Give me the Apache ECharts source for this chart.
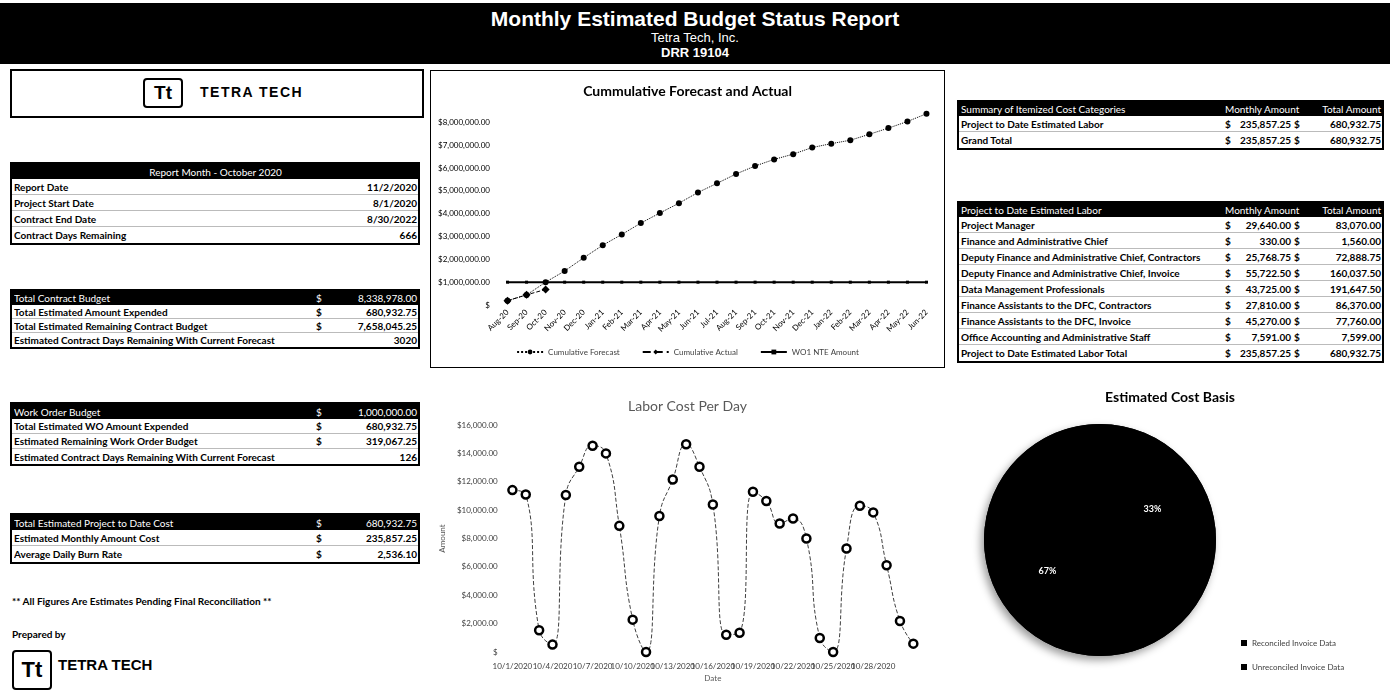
<!DOCTYPE html>
<html>
<head>
<meta charset="utf-8">
<script src="https://cdn.jsdelivr.net/npm/echarts@6/dist/echarts.min.js"></script>
<style>
  html,body{margin:0;padding:0;background:#fff;}
  body{width:1390px;height:692px;position:relative;overflow:hidden;font-family:Lato,"Open Sans",sans-serif;}
  #header{position:absolute;left:0;top:3px;width:1390px;height:61px;background:#000;color:#fff;text-align:center;font-family:"Liberation Sans Narrow","Liberation Sans",Arial,sans-serif;}
  #header .t1{position:absolute;left:0;right:0;top:4px;font-size:21px;font-weight:bold;line-height:24px;}
  #header .t2{position:absolute;left:0;right:0;top:28px;font-size:13px;line-height:14px;}
  #header .t3{position:absolute;left:0;right:0;top:42px;font-size:13px;font-weight:bold;line-height:15px;}
  .box{position:absolute;border:2px solid #000;box-sizing:border-box;}
  .tbl{position:absolute;border:2px solid #000;box-sizing:border-box;font-size:10px;}
  .row{display:flex;align-items:center;box-sizing:border-box;padding:0 1px 0 2px;white-space:nowrap;font-weight:bold;color:#000;border-bottom:1px solid #bbb;}
  .row:last-child{border-bottom:none;}
  .row.hd{background:#000;color:#fff;font-weight:normal;border-bottom:none;}
  .c1{flex:1 1 auto;overflow:hidden;}
  .cd{flex:0 0 auto;text-align:left;}
  .cv{flex:0 0 auto;text-align:right;}
  .ctot{flex:0 0 auto;display:flex;justify-content:space-between;}
  .logo{position:absolute;border:2px solid #000;border-radius:4px;box-sizing:border-box;font-family:"Liberation Sans",Arial,sans-serif;font-weight:bold;text-align:center;}
  .logotext{position:absolute;font-family:"Liberation Sans",Arial,sans-serif;font-weight:bold;white-space:nowrap;}
  .note{position:absolute;font-size:10px;font-weight:bold;white-space:nowrap;}
  #c1{position:absolute;left:430px;top:70px;width:515px;height:298px;border:1px solid #000;box-sizing:border-box;}
  #c2{position:absolute;left:430px;top:380px;width:515px;height:312px;}
  #c3{position:absolute;left:950px;top:380px;width:440px;height:312px;}
</style>
</head>
<body>
<div id="header">
  <div class="t1">Monthly Estimated Budget Status Report</div>
  <div class="t2">Tetra Tech, Inc.</div>
  <div class="t3">DRR 19104</div>
</div>

<div class="box" style="left:10px;top:69px;width:414px;height:49px;"></div>
<div class="logo" style="left:143px;top:78px;width:40px;height:30px;font-size:19px;line-height:26px;">Tt</div>
<div class="logotext" style="left:200px;top:84px;font-size:14px;letter-spacing:1.5px;">TETRA TECH</div>

<div id="leftTables"></div>
<div id="rightTables"></div>

<div class="note" style="left:12px;top:595px;">** All Figures Are Estimates Pending Final Reconciliation **</div>
<div class="note" style="left:12px;top:628px;">Prepared by</div>
<div class="logo" style="left:12px;top:650px;width:40px;height:40px;font-size:22px;line-height:36px;">Tt</div>
<div class="logotext" style="left:58px;top:656px;font-size:15px;">TETRA TECH</div>

<div id="c1"></div>
<div id="c2"></div>
<div id="c3"></div>

<script>
// ---------- Cumulative chart data ----------
const cumCategories = ['Aug-20','Sep-20','Oct-20','Nov-20','Dec-20','Jan-21','Feb-21','Mar-21','Apr-21','May-21','Jun-21','Jul-21','Aug-21','Sep-21','Oct-21','Nov-21','Dec-21','Jan-22','Feb-22','Mar-22','Apr-22','May-22','Jun-22'];
const cumForecast = [190000, 440000, 1000000, 1490000, 2070000, 2620000, 3090000, 3590000, 4030000, 4460000, 4930000, 5330000, 5740000, 6090000, 6380000, 6610000, 6900000, 7070000, 7220000, 7480000, 7750000, 8040000, 8380000];
const cumActual = [190000, 445075, 680932.75];
const woAmount = [1000000,1000000,1000000,1000000,1000000,1000000,1000000,1000000,1000000,1000000,1000000,1000000,1000000,1000000,1000000,1000000,1000000,1000000,1000000,1000000,1000000,1000000,1000000];
const cumSeriesNames = ['Cumulative Forecast','Cumulative Actual','WO1 NTE Amount'];

// ---------- Labor cost per day ----------
const laborDates = ['10/1/2020','10/2/2020','10/3/2020','10/4/2020','10/5/2020','10/6/2020','10/7/2020','10/8/2020','10/9/2020','10/10/2020','10/11/2020','10/12/2020','10/13/2020','10/14/2020','10/15/2020','10/16/2020','10/17/2020','10/18/2020','10/19/2020','10/20/2020','10/21/2020','10/22/2020','10/23/2020','10/24/2020','10/25/2020','10/26/2020','10/27/2020','10/28/2020','10/29/2020','10/30/2020','10/31/2020'];
const laborCost = [11410, 11100, 1530, 520, 11060, 13060, 14540, 14000, 8890, 2280, 0, 9580, 12160, 14640, 13060, 10400, 1220, 1360, 11290, 10640, 9060, 9410, 8000, 990, 0, 7290, 10310, 9840, 6120, 2190, 590];

// ---------- Pie ----------
const pieNames = ['Reconciled Invoice Data','Unreconciled Invoice Data'];
const pieValues = [33, 67];

// ---------- Tables ----------
const reportMonthTitle = 'Report Month - October 2020';
const reportLabels = ['Report Date','Project Start Date','Contract End Date','Contract Days Remaining'];
const reportValues = ['11/2/2020','8/1/2020','8/30/2022','666'];

const contractLabels = ['Total Contract Budget','Total Estimated Amount Expended','Total Estimated Remaining Contract Budget','Estimated Contract Days Remaining With Current Forecast'];
const contractDollar = ['$','$','$',''];
const contractValues = ['8,338,978.00','680,932.75','7,658,045.25','3020'];

const woLabels = ['Work Order Budget','Total Estimated WO Amount Expended','Estimated Remaining Work Order Budget','Estimated Contract Days Remaining With Current Forecast'];
const woDollar = ['$','$','$',''];
const woValues = ['1,000,000.00','680,932.75','319,067.25','126'];

const ptdLabels = ['Total Estimated Project to Date Cost','Estimated Monthly Amount Cost','Average Daily Burn Rate'];
const ptdDollar = ['$','$','$'];
const ptdValues = ['680,932.75','235,857.25','2,536.10'];

const summaryLabels = ['Project to Date Estimated Labor','Grand Total'];
const summaryMonthly = ['235,857.25','235,857.25'];
const summaryTotal = ['680,932.75','680,932.75'];

const laborLabels = ['Project Manager','Finance and Administrative Chief','Deputy Finance and Administrative Chief, Contractors','Deputy Finance and Administrative Chief, Invoice','Data Management Professionals','Finance Assistants to the DFC, Contractors','Finance Assistants to the DFC, Invoice','Office Accounting and Administrative Staff','Project to Date Estimated Labor Total'];
const laborMonthly = ['29,640.00','330.00','25,768.75','55,722.50','43,725.00','27,810.00','45,270.00','7,591.00','235,857.25'];
const laborTotal = ['83,070.00','1,560.00','72,888.75','160,037.50','191,647.50','86,370.00','77,760.00','7,599.00','680,932.75'];

// ---------- Build tables ----------
function leftTable(top, rowH, hdH, labels, dollars, values){
  let h = '<div class="tbl" style="left:10px;top:'+top+'px;width:410px;">';
  labels.forEach((l,i)=>{
    const hd = i===0 ? ' hd' : '';
    const hh = i===0 ? hdH : rowH;
    h += '<div class="row'+hd+'" style="height:'+hh+'px;"><span class="c1">'+l+'</span>';
    h += '<span class="cd" style="width:16px;">'+(dollars[i]||'')+'</span>';
    h += '<span class="cv" style="width:85px;">'+values[i]+'</span></div>';
  });
  return h + '</div>';
}
let lh = '';
lh += '<div class="tbl" style="left:10px;top:162px;width:410px;">';
lh += '<div class="row hd" style="height:15px;justify-content:center;">'+reportMonthTitle+'</div>';
reportLabels.forEach((l,i)=>{ lh += '<div class="row" style="height:16px;"><span class="c1">'+l+'</span><span class="cv">'+reportValues[i]+'</span></div>'; });
lh += '</div>';
lh += leftTable(289, 14, 14, contractLabels, contractDollar, contractValues);
lh += leftTable(402, 15, 15, woLabels, woDollar, woValues);
lh += leftTable(513, 16, 15, ptdLabels, ptdDollar, ptdValues);
document.getElementById('leftTables').innerHTML = lh;

function rightTable(top, title, labels, monthly, total, rowH){
  let h = '<div class="tbl" style="left:957px;top:'+top+'px;width:427px;">';
  h += '<div class="row hd" style="height:14px;"><span class="c1">'+title+'</span><span style="flex:0 0 auto;width:66px;text-align:right;">Monthly Amount</span><span style="flex:0 0 auto;width:87px;margin-left:3px;text-align:right;">Total Amount</span></div>';
  labels.forEach((l,i)=>{
    h += '<div class="row" style="height:'+rowH+'px;"><span class="c1">'+l+'</span><span class="cd" style="width:8px;">$</span><span class="cv" style="width:58px;">'+monthly[i]+'</span><span class="ctot" style="width:87px;margin-left:3px;"><span>$</span><span>'+total[i]+'</span></span></div>';
  });
  return h + '</div>';
}
let rh = '';
rh += rightTable(100, 'Summary of Itemized Cost Categories', summaryLabels, summaryMonthly, summaryTotal, 16);
rh += rightTable(201, 'Project to Date Estimated Labor', laborLabels, laborMonthly, laborTotal, 16);
document.getElementById('rightTables').innerHTML = rh;

// ---------- Charts ----------
const FONT = 'Lato, "Open Sans", sans-serif';
function money(v, dec){
  if (v === 0) return '$';
  return '$' + v.toLocaleString('en-US',{minimumFractionDigits:dec, maximumFractionDigits:dec});
}

const c1 = echarts.init(document.getElementById('c1'), null, {renderer:'canvas'});
c1.setOption({
  animation:false,
  textStyle:{fontFamily:FONT},
  title:{text:'Cummulative Forecast and Actual', left:'center', top:8, textStyle:{fontSize:14, fontWeight:'bold', color:'#000', fontFamily:FONT}},
  grid:{left:67, right:8, top:40, bottom:62},
  legend:{bottom:6, left:'center', itemGap:22, itemWidth:26, itemHeight:6, textStyle:{fontSize:8, color:'#404040'}, data:cumSeriesNames},
  xAxis:{type:'category', data:cumCategories, boundaryGap:true,
    axisLine:{show:false}, axisTick:{show:false},
    axisLabel:{rotate:45, fontSize:8, color:'#000', interval:0, margin:6}},
  yAxis:{type:'value', min:0, max:8500000, interval:1000000,
    axisLine:{show:false}, axisTick:{show:false}, splitLine:{show:false},
    axisLabel:{fontSize:8, color:'#000', showMaxLabel:false, formatter:v=>money(v,2)}},
  series:[
    {name:cumSeriesNames[0], type:'line', data:cumForecast, symbol:'circle', symbolSize:6,
      itemStyle:{color:'#000'}, lineStyle:{type:'dotted', width:1, color:'#000'}},
    {name:cumSeriesNames[1], type:'line', data:cumActual, symbol:'diamond', symbolSize:8,
      itemStyle:{color:'#000'}, lineStyle:{type:'dashed', width:1, color:'#000'}},
    {name:cumSeriesNames[2], type:'line', data:woAmount, symbol:'rect', symbolSize:3,
      itemStyle:{color:'#000'}, lineStyle:{type:'solid', width:2, color:'#000'}}
  ]
});

const c2 = echarts.init(document.getElementById('c2'), null, {renderer:'canvas'});
c2.setOption({
  animation:false,
  textStyle:{fontFamily:FONT},
  title:{text:'Labor Cost Per Day', left:'center', top:14, textStyle:{fontSize:14, fontWeight:'normal', color:'#595959', fontFamily:FONT}},
  grid:{left:73, right:25, top:45, bottom:40},
  xAxis:{type:'category', data:laborDates, boundaryGap:true, name:'Date', nameLocation:'middle', nameGap:21,
    nameTextStyle:{fontSize:8, color:'#595959'},
    axisLine:{show:false}, axisTick:{show:false},
    axisLabel:{fontSize:8, color:'#404040', interval:2, margin:10, hideOverlap:false}},
  yAxis:{type:'value', min:0, max:16000, interval:2000, name:'Amount', nameLocation:'middle', nameGap:52, nameRotate:90,
    nameTextStyle:{fontSize:8, color:'#595959'},
    axisLine:{show:false}, axisTick:{show:false}, splitLine:{show:false},
    axisLabel:{fontSize:8, color:'#404040', formatter:v=>money(v,2)}},
  series:[
    {name:'Labor Cost', type:'line', data:laborCost, smooth:0.5, symbol:'circle', symbolSize:8,
      itemStyle:{color:'#fff', borderColor:'#000', borderWidth:2.5},
      lineStyle:{type:'dashed', width:1, color:'#404040'}}
  ]
});

const c3 = echarts.init(document.getElementById('c3'), null, {renderer:'canvas'});
c3.setOption({
  animation:false,
  textStyle:{fontFamily:FONT},
  title:{text:'Estimated Cost Basis', left:'center', top:5, textStyle:{fontSize:14, fontWeight:'bold', color:'#000', fontFamily:FONT}},
  legend:{orient:'vertical', left:286, top:254, itemGap:16, itemWidth:6, itemHeight:6, icon:'rect',
    textStyle:{fontSize:8, color:'#404040'}, data:pieNames},
  series:[
    {type:'pie', center:[150,160], radius:116, silent:true, z:1,
      data:[{name:'_shadow', value:1}],
      itemStyle:{color:'#000', borderWidth:0, shadowBlur:8, shadowColor:'rgba(0,0,0,0.4)', shadowOffsetX:-3, shadowOffsetY:4},
      label:{show:false}, labelLine:{show:false}, emphasis:{disabled:true}, tooltip:{show:false}},
    {type:'pie', center:[150,160], radius:116, startAngle:90, clockwise:true, z:2,
      data:pieNames.map((n,i)=>({name:n, value:pieValues[i]})),
      itemStyle:{color:'#000', borderWidth:0},
      label:{show:true, position:'inside', formatter:'{d}%', color:'#fff', fontSize:9, fontWeight:'bold'},
      labelLine:{show:false}, emphasis:{disabled:true}}
  ]
});
</script>
</body>
</html>
